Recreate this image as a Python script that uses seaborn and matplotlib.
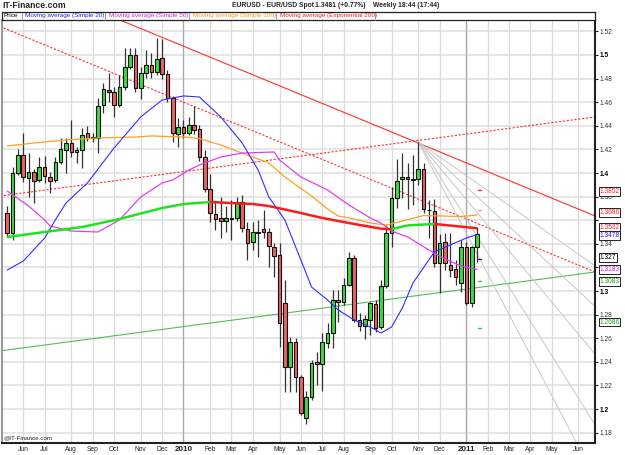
import numpy as np
import pandas as pd
import matplotlib
matplotlib.use("Agg")
import matplotlib.pyplot as plt
import matplotlib.transforms as mtransforms
from matplotlib import font_manager
import seaborn as sns

# weekly EURUSD candles, index 0 = week ending 15 May 2009
opens = [1.3658, 1.3494, 1.3997, 1.4153, 1.3960, 1.4006, 1.3941, 1.4054, 1.3969, 1.3941,
         1.4096, 1.4195, 1.4251, 1.4175, 1.4195, 1.4336, 1.4300, 1.4294, 1.4576, 1.4703,
         1.4684, 1.4576, 1.4732, 1.4901, 1.5000, 1.4718, 1.4850, 1.4915, 1.4859, 1.4972,
         1.4839, 1.4633, 1.4328, 1.4393, 1.4342, 1.4407, 1.4370, 1.4138, 1.3862, 1.3655,
         1.3616, 1.3593, 1.3616, 1.3616, 1.3757, 1.3523, 1.3418, 1.3497, 1.3523, 1.3497,
         1.3370, 1.3305, 1.2901, 1.2359, 1.2565, 1.2274, 1.1921, 1.2099, 1.2395, 1.2378,
         1.2556, 1.2641, 1.2924, 1.2910, 1.3051, 1.3282, 1.2754, 1.2706, 1.2754, 1.2890,
         1.2692, 1.3042, 1.3489, 1.3785, 1.3946, 1.3969, 1.3946, 1.3946, 1.4031, 1.3686,
         1.3681, 1.3240, 1.3418, 1.3220, 1.3183, 1.3065, 1.3370, 1.2901, 1.3370]
highs = [1.3720, 1.4054, 1.4200, 1.4336, 1.4167, 1.4030, 1.4138, 1.4144, 1.4011, 1.4138,
         1.4294, 1.4294, 1.4449, 1.4223, 1.4378, 1.4398, 1.4340, 1.4633, 1.4760, 1.4845,
         1.4726, 1.4830, 1.5057, 1.5062, 1.5057, 1.4900, 1.5042, 1.5014, 1.5141, 1.5135,
         1.4870, 1.4650, 1.4463, 1.4449, 1.4477, 1.4568, 1.4407, 1.4195, 1.3990, 1.3760,
         1.3800, 1.3720, 1.3771, 1.3800, 1.3813, 1.3588, 1.3588, 1.3600, 1.3686, 1.3530,
         1.3404, 1.3404, 1.3093, 1.2613, 1.2600, 1.2290, 1.2152, 1.2415, 1.2480, 1.2640,
         1.2726, 1.3008, 1.3008, 1.3107, 1.3333, 1.3305, 1.2811, 1.2797, 1.2910, 1.2924,
         1.3093, 1.3560, 1.3884, 1.4120, 1.4167, 1.4082, 1.4150, 1.4263, 1.4082, 1.3771,
         1.3777, 1.3480, 1.3488, 1.3488, 1.3263, 1.3432, 1.3418, 1.3380, 1.3545]
lows = [1.3460, 1.3432, 1.3980, 1.3927, 1.3800, 1.3743, 1.3927, 1.3912, 1.3828, 1.3920,
        1.4080, 1.3997, 1.4138, 1.4082, 1.4040, 1.4270, 1.4260, 1.4172, 1.4506, 1.4600,
        1.4477, 1.4560, 1.4700, 1.4880, 1.4690, 1.4624, 1.4802, 1.4802, 1.4830, 1.4800,
        1.4600, 1.4265, 1.4223, 1.4300, 1.4320, 1.4330, 1.4100, 1.3840, 1.3588, 1.3520,
        1.3446, 1.3500, 1.3432, 1.3590, 1.3503, 1.3263, 1.3347, 1.3291, 1.3450, 1.3206,
        1.3122, 1.2528, 1.2147, 1.2147, 1.2147, 1.1950, 1.1873, 1.2080, 1.2203, 1.2150,
        1.2514, 1.2514, 1.2740, 1.2881, 1.3040, 1.2740, 1.2660, 1.2590, 1.2627, 1.2650,
        1.2680, 1.3023, 1.3376, 1.3700, 1.3785, 1.3695, 1.3725, 1.3900, 1.3660, 1.3446,
        1.3200, 1.2980, 1.3180, 1.3121, 1.3051, 1.2990, 1.2880, 1.2867, 1.3248]
closes = [1.3494, 1.3997, 1.4153, 1.3969, 1.4011, 1.3932, 1.4054, 1.3977, 1.3932, 1.4096,
          1.4201, 1.4251, 1.4181, 1.4195, 1.4322, 1.4300, 1.4298, 1.4568, 1.4709, 1.4684,
          1.4576, 1.4726, 1.4901, 1.5000, 1.4718, 1.4845, 1.4915, 1.4859, 1.4963, 1.4839,
          1.4633, 1.4336, 1.4393, 1.4342, 1.4407, 1.4364, 1.4138, 1.3862, 1.3664, 1.3612,
          1.3593, 1.3616, 1.3614, 1.3757, 1.3531, 1.3410, 1.3497, 1.3495, 1.3497, 1.3381,
          1.3297, 1.2732, 1.2359, 1.2565, 1.2268, 1.1963, 1.2099, 1.2387, 1.2378, 1.2565,
          1.2641, 1.2924, 1.2910, 1.3051, 1.3282, 1.2754, 1.2706, 1.2763, 1.2896, 1.2684,
          1.3042, 1.3489, 1.3785, 1.3932, 1.3969, 1.3946, 1.3944, 1.4031, 1.3692, 1.3684,
          1.3240, 1.3410, 1.3240, 1.3178, 1.3116, 1.3370, 1.2901, 1.3370, 1.3483]

# moving averages (week index, price)
sma20_idx = [0, 3, 7, 9, 11, 15, 20, 25, 29, 33, 36, 40, 44, 47, 49, 52, 55, 57, 60, 62,
             65, 68, 70, 72, 74, 76, 80, 83, 86, 88]
sma20_val = [1.3178, 1.3254, 1.3449, 1.3602, 1.3746, 1.3915, 1.4212, 1.4475, 1.4619, 1.4653,
             1.4644, 1.4475, 1.4254, 1.4025, 1.3797, 1.3602, 1.3263, 1.3034, 1.2924, 1.2839,
             1.2754, 1.2695, 1.2644, 1.2695, 1.2856, 1.3068, 1.3331, 1.3390, 1.3449, 1.3478]
sma50_idx = [0, 4, 7, 8, 12, 17, 21, 25, 29, 31, 34, 36, 40, 44, 50, 51, 55, 60, 64, 68,
             70, 72, 75, 79, 82, 85, 88]
sma50_val = [1.3847, 1.3720, 1.3602, 1.3551, 1.3508, 1.3500, 1.3602, 1.3797, 1.3915, 1.3941,
             1.4025, 1.4068, 1.4136, 1.4169, 1.4178, 1.4110, 1.3966, 1.3856, 1.3729, 1.3619,
             1.3576, 1.3508, 1.3458, 1.3347, 1.3271, 1.3212, 1.3183]
sma100_idx = [0, 5, 11, 17, 24, 27, 33, 36, 40, 44, 49, 52, 57, 60, 62, 65, 68, 71, 74, 78,
              81, 85, 88]
sma100_val = [1.4229, 1.4254, 1.4280, 1.4297, 1.4305, 1.4314, 1.4305, 1.4292, 1.4237, 1.4169,
              1.4085, 1.3966, 1.3805, 1.3695, 1.3636, 1.3610, 1.3576, 1.3559, 1.3593, 1.3640,
              1.3636, 1.3631, 1.3644]
ema200_idx = [0, 7, 14, 21, 29, 33, 38, 46, 49, 55, 59, 64, 70, 72, 75, 80, 88]
ema200_val = [1.3458, 1.3500, 1.3542, 1.3610, 1.3703, 1.3737, 1.3754, 1.3737, 1.3720, 1.3661,
              1.3619, 1.3576, 1.3528, 1.3524, 1.3556, 1.3568, 1.3532]

# drawn trend lines (start/end points)
res_line = [(21.1, 1.5297), (110.1, 1.3636)]
chan_top = [(-1.37, 1.5242), (110.1, 1.3161)]
chan_up = [(-1.37, 1.3805), (110.1, 1.4475)]
chan_low = [(-1.37, 1.2492), (110.1, 1.3161)]
fan_apex = (77, 1.4263)
fan_ends = [(110.1, 1.3214), (110.1, 1.2870), (110.1, 1.2466), (110.1, 1.1867), (110.1, 1.1417)]

# value tags on the right axis
tag_text = ["1.3852", "1.3686", "1.3532", "1.3478", "1.327", "1.3183", "1.3083", "1.2686"]
tag_pos = [1.3845, 1.3665, 1.3537, 1.3470, 1.3283, 1.3181, 1.3083, 1.2737]
tag_col = ["#ff2020", "#ff2020", "#ff2020", "#2020ff", "#000000", "#e020e0", "#20a020", "#20a020"]
marks_y = [1.3852, 1.3686, 1.327, 1.3083, 1.2686]
marks_c = ["#ff3030", "#ff9090", "#333333", "#33cc33", "#33cc33"]

month_idx = [3, 7, 12, 16, 20, 25, 29, 33, 38, 42, 46, 51, 55, 59, 63, 68, 72, 77, 81, 86,
             90, 94, 98, 102, 107]
month_lbl = ["Jun", "Jul", "Aug", "Sep", "Oct", "Nov", "Dec", "2010", "Feb", "Mar", "Apr",
             "May", "Jun", "Jul", "Aug", "Sep", "Oct", "Nov", "Dec", "2011", "Feb", "Mar",
             "Apr", "May", "Jun"]
price_ticks = [1.18, 1.20, 1.22, 1.24, 1.26, 1.28, 1.30, 1.32, 1.34, 1.36, 1.38, 1.40,
               1.42, 1.44, 1.46, 1.48, 1.50, 1.52]
hidden_ticks = [1.32, 1.36]  # covered by the value tags

sns.set_style("white")
plt.rcParams["font.family"] = ["Liberation Sans", "DejaVu Sans"]
names = {f.name for f in font_manager.fontManager.ttflist}
narrow = "Liberation Sans Narrow" in names
title_font = "Liberation Sans Narrow" if narrow else "Liberation Sans"
title_size = 5.9 if narrow else 4.9

W, H = 625, 455
fig = plt.figure(figsize=(W / 100, H / 100), dpi=100)
ax = fig.add_axes([2 / W, 12 / H, 593 / W, 423 / H])
ax.set_xlim(-0.99, 110.1)
ax.set_ylim(1.17119, 1.52966)

# grid
for p in price_ticks:
    ax.axhline(p, color="#e2e2e2", lw=1.2, zorder=0)
for m, lbl in zip(month_idx, month_lbl):
    yr = lbl.isdigit()
    ax.axvline(m, color="#a8a8a8" if yr else "#dcdcdc", lw=1.0, zorder=0)

# trend lines
for (a, b), st, col in [(res_line, "-", "#ff3030"), (chan_top, (0, (2, 1.5)), "#ff3030"),
                        (chan_up, (0, (2, 1.5)), "#ff3030"), (chan_low, "-", "#55bb55")]:
    ax.plot([a[0], b[0]], [a[1], b[1]], ls=st, color=col, lw=0.8, zorder=1)
for e in fan_ends:
    ax.plot([fan_apex[0], e[0]], [fan_apex[1], e[1]], color="#c8c8c8", lw=0.7, zorder=1)

# candles
df = pd.DataFrame({"o": opens, "h": highs, "l": lows, "c": closes})
df["i"] = np.arange(len(df))
up = df["c"] >= df["o"]
ax.vlines(df["i"], df["l"], df["h"], color="#333333", lw=0.9, zorder=3)
body = (df["c"] - df["o"]).abs().clip(lower=0.0004)
ax.bar(df["i"], body, bottom=np.minimum(df["o"], df["c"]), width=0.68,
       color=np.where(up, "#3ddc3d", "#ea6262"), edgecolor="#111111", linewidth=0.8, zorder=4)

# moving averages
sns.lineplot(x=sma100_idx, y=sma100_val, ax=ax, color="#ffa020", lw=0.9, zorder=5)
sns.lineplot(x=sma50_idx, y=sma50_val, ax=ax, color="#e040f0", lw=0.9, zorder=5)
sns.lineplot(x=sma20_idx, y=sma20_val, ax=ax, color="#3030ff", lw=0.8, zorder=5)
for k in range(len(ema200_idx) - 1):
    rising = ema200_val[k + 1] >= ema200_val[k]
    ax.plot(ema200_idx[k:k + 2], ema200_val[k:k + 2], color="#22e022" if rising else "#ff1a1a",
            lw=1.8, solid_capstyle="butt", zorder=5)

for yv, cc in zip(marks_y, marks_c):
    ax.plot([88.2, 88.8], [yv, yv], color=cc, lw=1.0, zorder=5)

# axes styling
ax.spines["top"].set_visible(False)
ax.spines["left"].set_color("#9a9a9a")
ax.spines["left"].set_linewidth(1.5)
for s in ["right", "bottom"]:
    ax.spines[s].set_color("#222222")
    ax.spines[s].set_linewidth(1.5)

ax.yaxis.tick_right()
ax.set_yticks(price_ticks)
ax.set_yticklabels(["" if p in hidden_ticks else f"{p:g}" for p in price_ticks])
ax.tick_params(axis="y", length=2.5, width=0.8, color="#222222", pad=1, labelsize=4.8,
               labelcolor="#333333")
for t, p in zip(ax.get_yticklabels(), price_ticks):
    if abs(p * 10 - round(p * 10)) < 1e-6:
        t.set_fontweight("bold")
        t.set_color("#000000")
ax.set_xticks(month_idx)
ax.set_xticklabels(month_lbl)
ax.tick_params(axis="x", length=0, pad=2.5, labelsize=4.8, labelcolor="#222222")
for t in ax.get_xticklabels():
    if t.get_text().isdigit():
        t.set_fontweight("bold")
        t.set_fontsize(5.8)
ax.set_xlabel("")
ax.set_ylabel("")

# value tags
tr = mtransforms.blended_transform_factory(ax.transAxes, ax.transData)
for txt, yv, cc in zip(tag_text, tag_pos, tag_col):
    ax.text(1.0075, yv, txt, transform=tr, color=cc, fontsize=4.8, va="center", ha="left",
            bbox=dict(boxstyle="square,pad=0.12", fc="white", ec="#222222", lw=0.7),
            zorder=10, clip_on=False)

ax.text(0.002, 0.006, "@IT-Finance.com", transform=ax.transAxes, fontsize=4.5,
        color="#222222", va="bottom")

# header box with legend
hdr = fig.add_axes([2 / W, 435 / H, 593 / W, 8 / H])
hdr.set_xticks([])
hdr.set_yticks([])
for s in hdr.spines.values():
    s.set_color("#222222")
    s.set_linewidth(0.9)
legend_items = [("Price", "#000000", 4), ("Moving average (Simple 20)", "#2020ff", 25),
                ("Moving average (Simple 50)", "#e020e0", 109),
                ("Moving average (Simple 100)", "#ff9a10", 193),
                ("Moving average (Exponential 200)", "#ff2020", 280)]
for txt, cc, xp in legend_items:
    fig.text(xp / W, 1 - 15.8 / H, txt, color=cc, fontsize=4.6, va="center", ha="left")
for xp in [22, 105, 189, 276, 375]:
    fig.add_artist(plt.Line2D([xp / W, xp / W], [1 - 19.5 / H, 1 - 12.5 / H],
                              color="#999999", lw=0.6))

# title row
fig.text(2 / W, 1 - 5.5 / H, "IT-Finance.com", fontsize=6.2, weight="bold", va="center")
for txt, xp in [("EURUSD - EUR/USD Spot", 232), ("1.3481 (+0.77%)", 315),
                ("Weekly", 373), ("18:44 (17:44)", 398)]:
    fig.text(xp / W, 1 - 5.5 / H, txt, fontsize=title_size, weight="bold", va="center",
             family=[title_font, "DejaVu Sans"])

fig.savefig("out.png", dpi=100)
